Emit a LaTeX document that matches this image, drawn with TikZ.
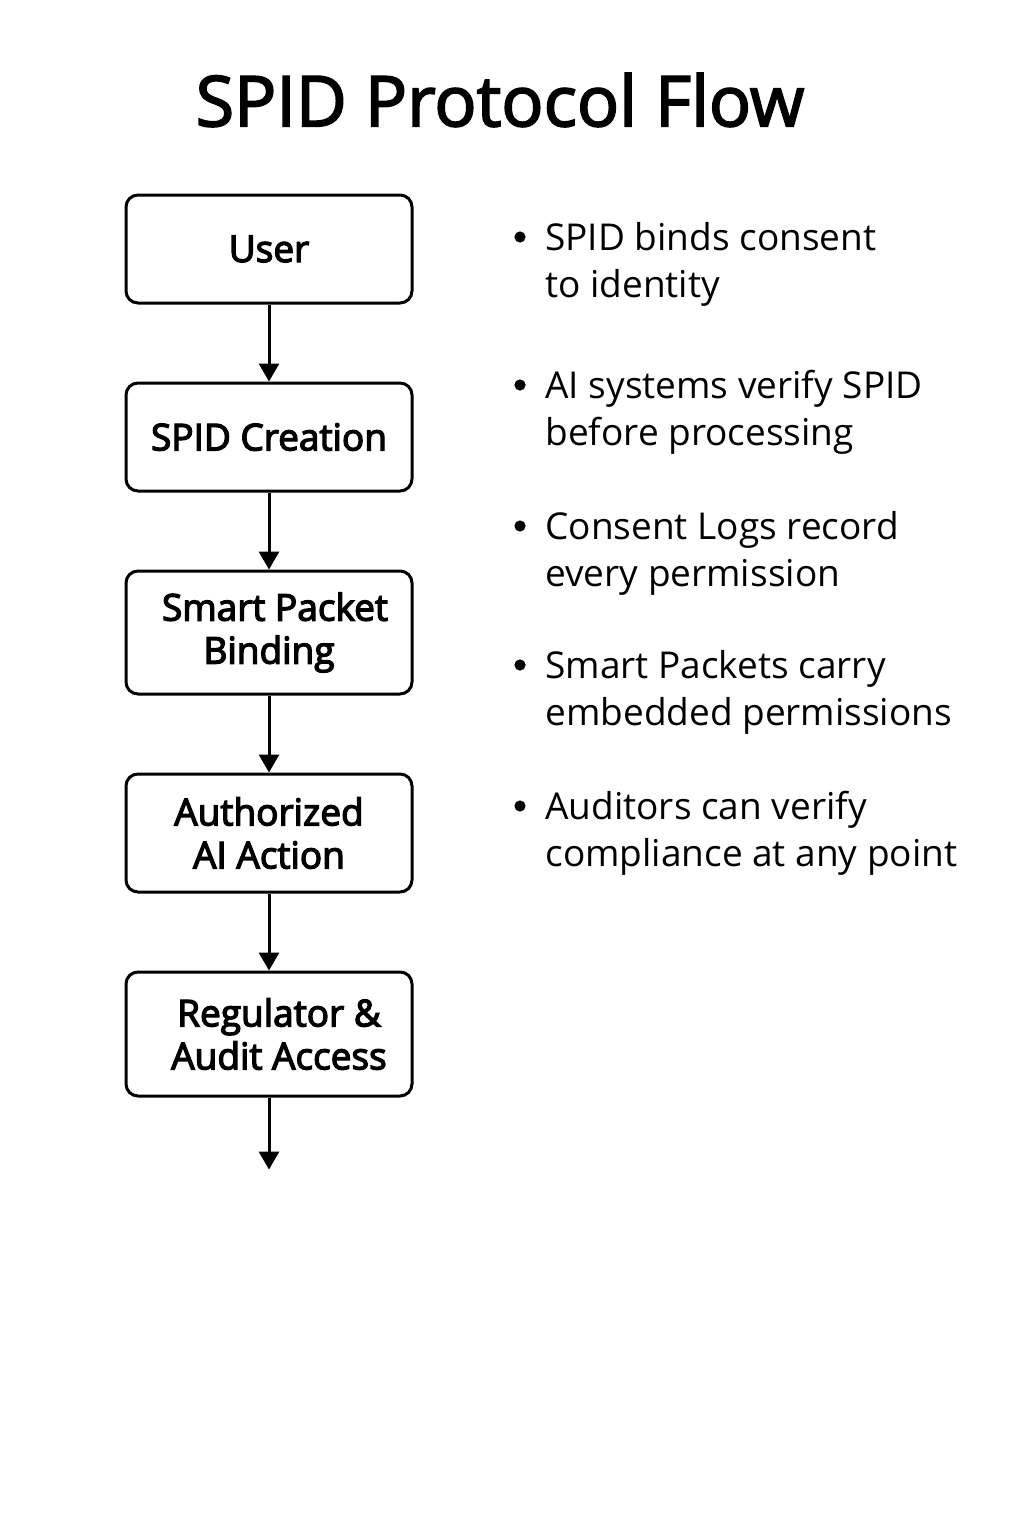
\documentclass[tikz,border=0pt]{standalone}
\usepackage{fontspec}
\setmainfont{Open Sans}
\newfontfamily\mediumfont{Open Sans}[FakeBold=3.5]
\newfontfamily\titlefont{Open Sans}[FakeBold=2.5]
\usetikzlibrary{positioning,arrows.meta}

\begin{document}
\begin{tikzpicture}[
        x=0.5pt, y=-0.5pt,
        node distance=38.5pt,
        block/.style={rectangle, draw, line width=1.5pt, rounded corners=6pt, align=center, text centered, minimum width=143pt, minimum height=54pt, font=\fontsize{18.5}{21.5}\selectfont\mediumfont},
        note/.style={anchor=base west, align=left, inner sep=0pt, font=\fontsize{18.5}{23.5}\selectfont},
        line/.style={draw, -{Triangle[length=9pt,width=10pt]}, line width=1.5pt}
    ]
    \useasboundingbox (0,0) rectangle (1024,1536);

    % title
    \node[font=\fontsize{35}{40}\selectfont\titlefont] (title) at (500,100) {SPID Protocol Flow};

    % nodes
    \node[block] (user) at (269,249) {User};
    \node[block, below=of user] (creation) {SPID Creation};
    \node[block, below=of creation, minimum height=61.5pt] (binding) {\hspace{6pt}Smart Packet\\Binding};
    \node[block, below=of binding, minimum height=59pt] (action) {Authorized\\AI Action};
    \node[block, below=of action, minimum height=62pt] (audit) {\hspace{10pt}Regulator \&\\\hspace{10pt}Audit Access};
    \coordinate[below=36pt of audit] (out);

    % lines
    \path[line] (user) -- (creation);
    \path[line] (creation) -- (binding);
    \path[line] (binding) -- (action);
    \path[line] (action) -- (audit);
    \path[line] (audit) -- (out);

    % notes
    \foreach \i/\y/\txt in {1/250/{SPID binds consent\\to identity},
                            2/398/{AI systems verify SPID\\before processing},
                            3/539/{Consent Logs record\\every permission},
                            4/678/{Smart Packets carry\\embedded permissions},
                            5/819/{Auditors can verify\\compliance at any point}} {
        \node[note] (note\i) at (545,\y+47) {\txt};
        \fill (520,\y-13) circle (2.8pt);
    }

\end{tikzpicture}
\end{document}
